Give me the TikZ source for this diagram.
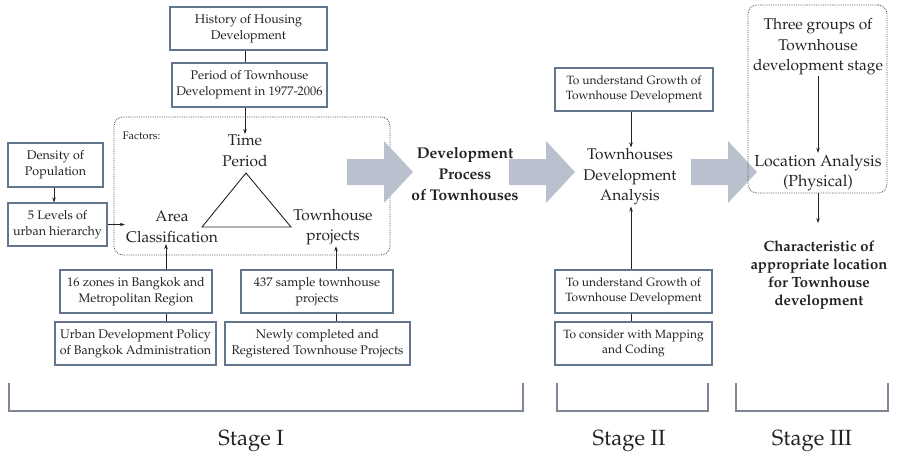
\documentclass[tikz,border=0pt]{standalone}
\usepackage[T1]{fontenc}
\usepackage{palatino}
\usepackage{tikz}
\usetikzlibrary{arrows.meta,positioning,calc}

\definecolor{ink}{RGB}{35,35,35}
\definecolor{boxline}{RGB}{100,118,140}
\definecolor{bracket}{RGB}{125,135,150}
\definecolor{bigarrow}{RGB}{186,192,205}

\begin{document}
\begin{tikzpicture}[x=1pt, y=-1pt,
  box/.style={draw=boxline, line width=1.1pt, fill=white, align=center, inner sep=1pt,
    text=ink, font=\fontsize{12.5}{16}\selectfont},
  boxsm/.style={box, font=\fontsize{12}{15}\selectfont},
  lbl/.style={align=center, text=ink, inner sep=1pt, font=\fontsize{15.5}{20.5}\selectfont},
  lblbf/.style={lbl, font=\fontsize{15.5}{21}\selectfont\bfseries},
  frame/.style={draw=ink!80, densely dotted, line width=0.8pt, rounded corners=9pt},
  flow/.style={draw=ink, line width=0.7pt, -{Stealth[length=5pt,width=3.5pt]}},
  link/.style={draw=ink, line width=0.7pt},
  brk/.style={draw=bracket, line width=1.1pt},
  stage/.style={text=ink, font=\fontsize{22}{26}\selectfont}]

\useasboundingbox (0,0) rectangle (898,459);

% ===== Stage I: factors frame and triangle =====
\node[frame, minimum width=276, minimum height=138] (factors) at (252,186) {};
\node[anchor=west, text=ink, font=\fontsize{11}{13}\selectfont] (factlbl) at (119,136) {Factors:};
\node[lbl] (timep) at (245,151) {Time\\Period};
\node[lbl] (area) at (172,227) {Area\\Classification};
\node[lbl] (townp) at (333,227) {Townhouse\\projects};
\coordinate (tA) at (246,173);
\coordinate (tB) at (202,227);
\coordinate (tC) at (291,227);
\draw[ink, line width=0.9pt] (tA) -- (tB) -- (tC) -- cycle;

% boxes above the triangle
\node[box, minimum width=157, minimum height=43] (history) at (248.5,28.5) {History of Housing\\Development};
\node[box, minimum width=155, minimum height=44] (period) at (249.5,85) {Period of Townhouse\\Development in 1977-2006};
\draw[link] (history.south -| 245,0) -- (period.north -| 245,0);
\draw[flow] (period.south -| 245,0) -- (timep.north);

% boxes on the left
\node[box, minimum width=95, minimum height=44] (density) at (55.5,165) {Density of\\Population};
\node[box, minimum width=99, minimum height=43] (levels) at (57.5,224.5) {5 Levels of\\urban hierarchy};
\draw[flow] (density.south -| 54,0) -- (levels.north -| 54,0);
\draw[flow] (levels.east) -- (levels.east -| area.west);

% boxes below the triangle
\node[box, minimum width=152, minimum height=43] (zones) at (136,291.5) {16 zones in Bangkok and\\Metropolitan Region};
\node[box, minimum width=161, minimum height=43] (policy) at (135.5,343.5) {Urban Development Policy\\of Bangkok Administration};
\node[box, minimum width=152, minimum height=43] (sample) at (317,291.5) {437 sample townhouse\\projects};
\node[box, minimum width=185, minimum height=43] (newly) at (317.5,343.5) {Newly completed and\\Registered Townhouse Projects};
\draw[link] (policy.north -| 166,0) -- (zones.south -| 166,0);
\draw[flow] (zones.north -| 166,0) -- (area.south -| 166,0);
\draw[link] (newly.north -| 336,0) -- (sample.south -| 336,0);
\draw[flow] (sample.north -| 336,0) -- (townp.south -| 336,0);

% ===== big arrows between stages =====
\foreach \x in {347,509,691}
  \fill[bigarrow] (\x,159) -- (\x+37,159) -- (\x+37,141) -- (\x+66,172)
    -- (\x+37,203) -- (\x+37,185) -- (\x,185) -- cycle;
\node[lblbf] (devproc) at (465,174) {Development\\Process\\of Townhouses};

% ===== Stage II =====
\node[lbl] (analysis) at (630,177) {Townhouses\\Development\\Analysis};
\node[boxsm, minimum width=158, minimum height=43] (growthA) at (634,89.5) {To understand Growth of\\Townhouse Development};
\node[boxsm, minimum width=157, minimum height=43] (growthB) at (633.5,291.5) {To understand Growth of\\Townhouse Development};
\node[boxsm, minimum width=157, minimum height=43] (mapping) at (633.5,343.5) {To consider with Mapping\\and Coding};
\draw[flow] (growthA.south -| 631,0) -- (analysis.north -| 631,0);
\draw[flow] (growthB.north -| 631,0) -- (analysis.south -| 631,0);
\draw[link] (mapping.north -| 631,0) -- (growthB.south -| 631,0);

% ===== Stage III =====
\node[frame, minimum width=139, minimum height=188] (frameIII) at (817.5,99) {};
\node[lbl] (groups) at (818,47) {Three groups of\\Townhouse\\development stage};
\node[lbl, font=\fontsize{16}{20}\selectfont] (location) at (818,173) {Location Analysis\\(Physical)};
\node[lblbf, font=\fontsize{14.8}{18.3}\selectfont\bfseries] (charloc) at (819,275) {Characteristic of\\appropriate location\\for Townhouse\\development};
\draw[flow] (groups.south -| 818,0) -- ([yshift=1]location.north -| 818,0);
\draw[flow, shorten >=16pt] (frameIII.south -| 818,0) -- (charloc.north -| 818,0);

% ===== stage brackets =====
\draw[brk] (9,383) -- (9,411) -- (523,411) -- (523,383);
\draw[brk] (557,383) -- (557,411) -- (708,411) -- (708,383);
\draw[brk] (736,383) -- (736,411) -- (888,411) -- (888,383);
\node[stage] (stageI) at (251,441) {Stage I};
\node[stage] (stageII) at (629,441) {Stage II};
\node[stage] (stageIII) at (812,441) {Stage III};

\end{tikzpicture}
\end{document}
